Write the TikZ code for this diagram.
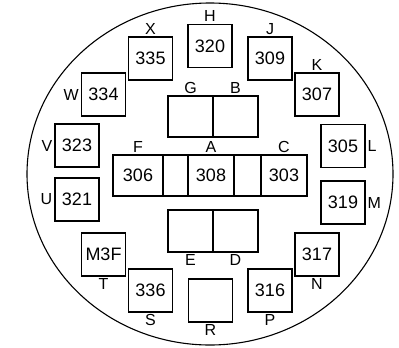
\documentclass[tikz,border=0pt]{standalone}
\usepackage{fontspec}
\setmainfont{Liberation Sans}
\usetikzlibrary{positioning}

\newcommand{\chipfont}{\fontsize{18}{20}\selectfont}
\newcommand{\lblfont}{\fontsize{16}{18}\selectfont}

\begin{document}
\begin{tikzpicture}[
    x=1pt, y=-1pt,
    node distance=1.5pt,
    % --- chip boxes ---
    chip/.style={draw, line width=1.1pt, outer sep=0pt, inner sep=0pt,
        minimum width=44pt, minimum height=43pt, font=\chipfont},
    cell/.style={draw, line width=1.1pt, outer sep=0pt, inner sep=0pt,
        minimum width=#1, minimum height=41pt, font=\chipfont},
    cell/.default=45pt,
    % --- letter labels ---
    lbl/.style={font=\lblfont, inner sep=1pt},
]

\useasboundingbox (0,0) rectangle (399,348);

% ---- Wafer outline ----
\draw[line width=1.1pt] (210,174) ellipse [x radius=183pt, y radius=171pt];

% ---- Outer ring of chips ----
\node[chip] (c335) at (150.5,58.5)  {335};
\node[chip] (c320) at (210,46)      {320};
\node[chip] (c309) at (270,58.5)    {309};
\node[chip] (c334) at (103.5,94.5)  {334};
\node[chip] (c307) at (317,94.5)    {307};
\node[chip] (c323) at (77,145.5)    {323};
\node[chip] (c305) at (343,146)     {305};
\node[chip] (c321) at (77,199.5)    {321};
\node[chip] (c319) at (343,202.5)   {319};
\node[chip] (cm3f) at (103.5,254.5) {M3F};
\node[chip] (c336) at (150.5,290.5) {336};
\node[chip] (c317) at (317,254.5)   {317};
\node[chip] (c316) at (270,290.5)   {316};
\node[chip] (cr)   at (210.5,300.5) {};

% ---- Upper pair ----
\node[cell] (g) at (190.5,116.5) {};
\node[cell, right=0pt of g] (b) {};

% ---- Middle row ----
\node[cell=50pt] (c306) at (138,175.5) {306};
\node[cell=25pt, right=0pt of c306] (gapl) {};
\node[cell=46pt, right=0pt of gapl] (c308) {308};
\node[cell=27pt, right=0pt of c308] (gapr) {};
\node[cell=46pt, right=0pt of gapr] (c303) {303};

% ---- Lower pair ----
\node[cell=45pt, minimum height=42pt] (e) at (190.5,231) {};
\node[cell=45pt, minimum height=42pt, right=0pt of e] (d) {};

% ---- Letter labels ----
\node[lbl, above=of c335] (lx) {X};
\node[lbl, above=of c320] (lh) {H};
\node[lbl, above=of c309] (lj) {J};
\node[lbl, above=of c307] (lk) {K};
\node[lbl, left=of c334]  (lw) {W};
\node[lbl, left=of c323]  (lv) {V};
\node[lbl, left=of c321]  (lu) {U};
\node[lbl, right=of c305] (ll) {L};
\node[lbl, right=of c319] (lm) {M};
\node[lbl, below=of cm3f] (lt) {T};
\node[lbl, below=of c336] (ls) {S};
\node[lbl, below=of c317] (ln) {N};
\node[lbl, below=of c316] (lp) {P};
\node[lbl, below=of cr]   (lr) {R};
\node[lbl, above=of g]    (lg) {G};
\node[lbl, above=of b]    (lb) {B};
\node[lbl, above=of c306] (lf) {F};
\node[lbl, above=of c308] (la) {A};
\node[lbl, above=of c303] (lc) {C};
\node[lbl, below=of e]    (le) {E};
\node[lbl, below=of d]    (ld) {D};

\end{tikzpicture}
\end{document}
